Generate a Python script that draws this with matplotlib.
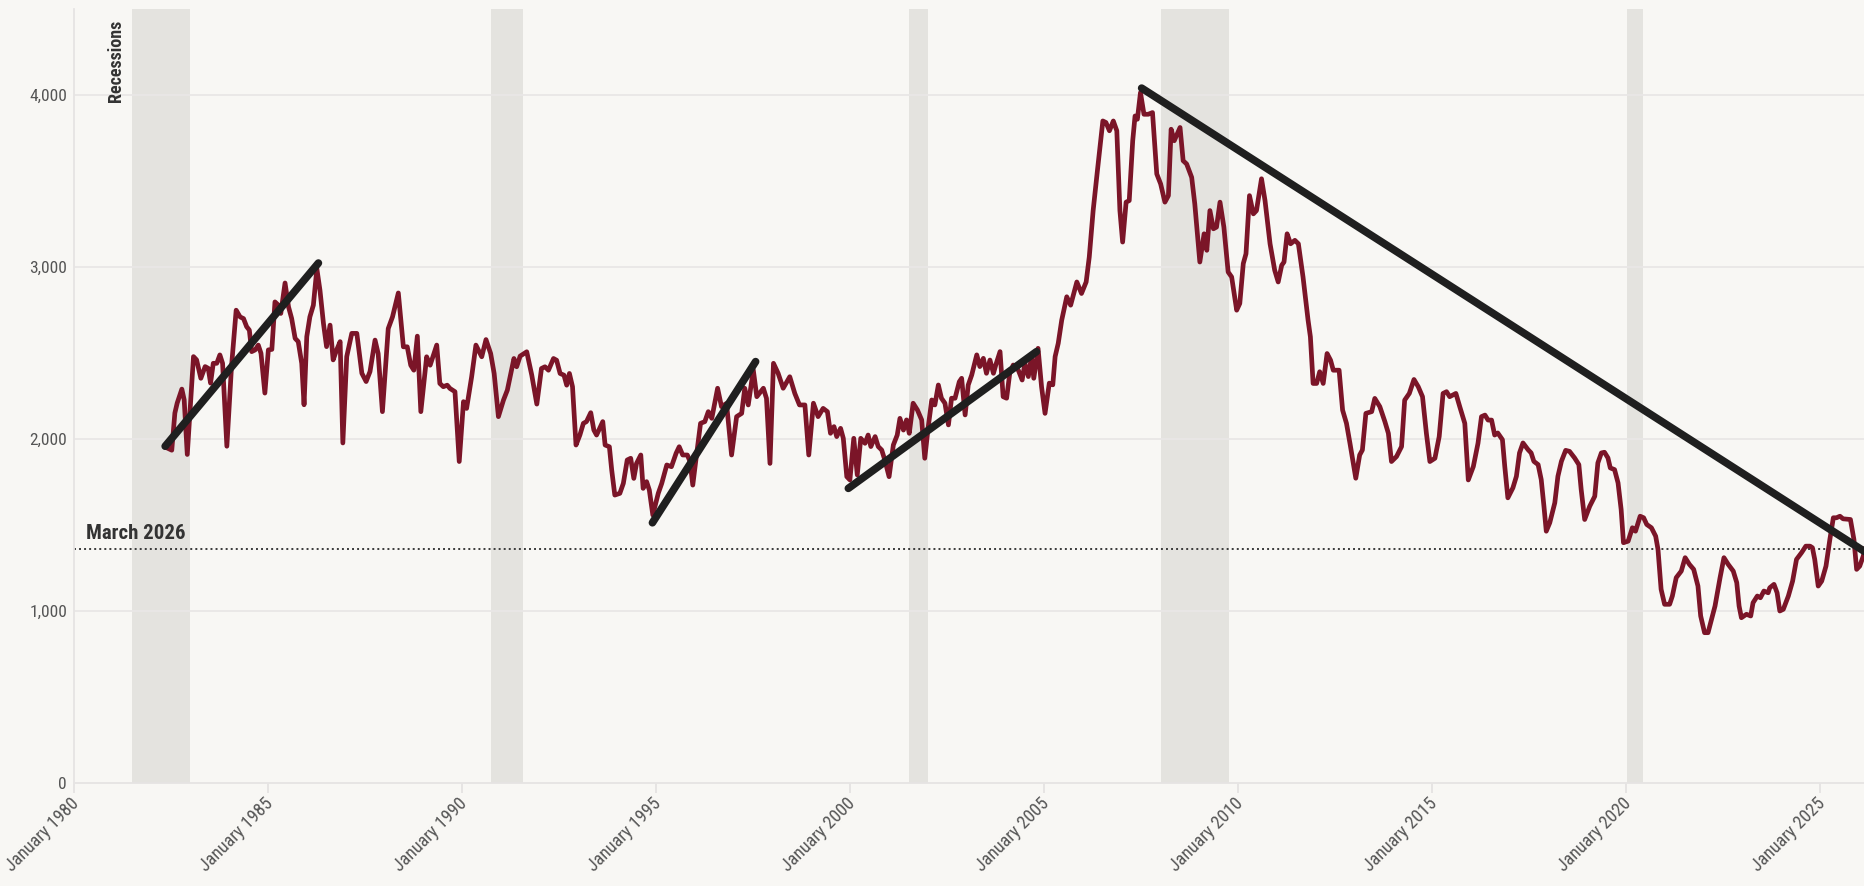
import matplotlib
matplotlib.use('Agg')
import matplotlib.pyplot as plt
from matplotlib.transforms import ScaledTranslation

plt.rcParams['font.family'] = ['Roboto Condensed', 'Roboto', 'DejaVu Sans']

# readings, x in decimal years
years_a = [1982.38, 1982.52, 1982.60, 1982.66, 1982.78, 1982.84, 1982.92,
           1983.08, 1983.16, 1983.27, 1983.38, 1983.46, 1983.52, 1983.59, 1983.68, 1983.76, 1983.83, 1983.94,
           1984.06, 1984.18, 1984.28, 1984.37, 1984.45, 1984.52, 1984.58, 1984.67, 1984.75, 1984.82, 1984.92,
           1985.01, 1985.10, 1985.18, 1985.27, 1985.33, 1985.44, 1985.53, 1985.61, 1985.70, 1985.78, 1985.87, 1985.93,
           1986.00, 1986.08, 1986.17, 1986.26, 1986.34, 1986.43, 1986.51, 1986.60, 1986.68, 1986.77, 1986.86, 1986.93,
           1987.03, 1987.16, 1987.29, 1987.42, 1987.53, 1987.63]
values_a = [1950, 1935, 2151, 2209, 2290, 2228, 1910,
            2479, 2460, 2353, 2421, 2411, 2325, 2440, 2440, 2489, 2440, 1958,
            2421, 2749, 2710, 2700, 2653, 2633, 2508, 2518, 2546, 2498, 2267,
            2518, 2521, 2797, 2778, 2730, 2907, 2768, 2701, 2585, 2566, 2440, 2199,
            2595, 2710, 2778, 2990, 2865, 2672, 2537, 2662, 2460, 2518, 2566, 1977,
            2479, 2614, 2614, 2382, 2334, 2392]

years_b = [1987.76, 1987.84, 1987.95,
           1988.10, 1988.21, 1988.36, 1988.49, 1988.59, 1988.68, 1988.76, 1988.85, 1988.94,
           1989.09, 1989.18, 1989.35, 1989.43, 1989.52, 1989.62, 1989.69, 1989.82, 1989.93,
           1990.04, 1990.12, 1990.25, 1990.36, 1990.51, 1990.62, 1990.74, 1990.83, 1990.94,
           1991.07, 1991.17, 1991.26, 1991.34, 1991.41, 1991.50, 1991.67, 1991.80, 1991.93,
           1992.05, 1992.14, 1992.23, 1992.36, 1992.44, 1992.53, 1992.63, 1992.70, 1992.77, 1992.85, 1992.94,
           1993.04, 1993.13, 1993.21, 1993.32]
values_b = [2575, 2497, 2159,
            2642, 2710, 2849, 2536, 2536, 2429, 2400, 2598, 2159,
            2478, 2429, 2546, 2323, 2304, 2313, 2294, 2275, 1869,
            2217, 2178, 2362, 2546, 2478, 2578, 2497, 2381, 2130,
            2226, 2284, 2381, 2468, 2420, 2482, 2507, 2371, 2203,
            2410, 2420, 2400, 2468, 2458, 2381, 2371, 2313, 2381, 2304, 1965,
            2023, 2091, 2101, 2153]

years_c = [1993.40, 1993.47, 1993.63, 1993.69, 1993.80, 1993.86, 1993.94,
           1994.07, 1994.16, 1994.26, 1994.35, 1994.43, 1994.50, 1994.61, 1994.67, 1994.76, 1994.83, 1994.92,
           1995.06, 1995.15, 1995.28, 1995.40, 1995.52, 1995.60, 1995.69, 1995.81, 1995.88, 1995.95,
           1996.03, 1996.15, 1996.26, 1996.35, 1996.44, 1996.59, 1996.69, 1996.82, 1996.95,
           1997.08, 1997.21, 1997.29, 1997.38, 1997.51, 1997.60, 1997.77, 1997.85, 1997.94,
           1998.03, 1998.15, 1998.28, 1998.45, 1998.58, 1998.70, 1998.84, 1998.94]
values_c = [2052, 2023, 2101, 1965, 1955, 1820, 1674,
            1684, 1742, 1878, 1888, 1771, 1858, 1907, 1713, 1752, 1703, 1558,
            1684, 1742, 1849, 1839, 1917, 1955, 1907, 1907, 1868, 1732,
            1878, 2091, 2101, 2159, 2120, 2295, 2188, 2207, 1907,
            2130, 2149, 2295, 2198, 2401, 2246, 2295, 2236, 1858,
            2440, 2382, 2295, 2362, 2265, 2198, 2198, 1907]

years_d = [1999.06, 1999.18, 1999.31, 1999.42, 1999.50, 1999.59, 1999.66, 1999.76, 1999.83, 1999.92,
           2000.00, 2000.10, 2000.19, 2000.28, 2000.39, 2000.47, 2000.54, 2000.65, 2000.73, 2000.82, 2000.90,
           2001.01, 2001.12, 2001.22, 2001.29, 2001.38, 2001.46, 2001.53, 2001.63, 2001.74, 2001.85, 2001.93,
           2002.02, 2002.11, 2002.19, 2002.28, 2002.36, 2002.45, 2002.54, 2002.62, 2002.71, 2002.82, 2002.88, 2002.97,
           2003.05, 2003.14, 2003.27, 2003.35, 2003.44, 2003.52, 2003.61, 2003.70, 2003.76, 2003.87, 2003.95,
           2004.04, 2004.12, 2004.21, 2004.34, 2004.44, 2004.51, 2004.60, 2004.68, 2004.74, 2004.85, 2004.94,
           2005.03]
values_d = [2208, 2130, 2178, 2159, 2033, 2072, 2014, 2062, 2004, 1781,
            1762, 2004, 1791, 2004, 1975, 2023, 1956, 2014, 1956, 1936, 1878,
            1781, 1965, 2023, 2120, 2052, 2111, 2033, 2208, 2169, 2111, 1888,
            2072, 2227, 2198, 2314, 2237, 2208, 2082, 2237, 2237, 2333, 2353, 2140,
            2314, 2372, 2489, 2421, 2469, 2382, 2459, 2382, 2430, 2508, 2246,
            2237, 2382, 2430, 2401, 2343, 2440, 2363, 2479, 2353, 2527, 2304,
            2149]

years_e = [2005.14, 2005.23, 2005.29, 2005.37, 2005.46, 2005.59, 2005.69, 2005.85, 2005.97,
           2006.09, 2006.17, 2006.27, 2006.38, 2006.52, 2006.60, 2006.69, 2006.79, 2006.88, 2006.96,
           2007.03, 2007.12, 2007.20, 2007.29, 2007.35, 2007.41, 2007.49, 2007.58, 2007.69, 2007.80, 2007.91,
           2008.01, 2008.12, 2008.21, 2008.28, 2008.36, 2008.51, 2008.59, 2008.68, 2008.81, 2008.89,
           2009.02, 2009.13, 2009.20, 2009.28, 2009.37, 2009.45, 2009.54, 2009.64, 2009.75, 2009.84, 2009.97,
           2010.05, 2010.14, 2010.21, 2010.30, 2010.40, 2010.48]
values_e = [2325, 2315, 2479, 2556, 2691, 2827, 2778, 2913, 2846,
            2913, 3058, 3328, 3560, 3849, 3840, 3792, 3849, 3792, 3328,
            3145, 3377, 3386, 3734, 3878, 3859, 4014, 3888, 3888, 3898, 3541,
            3483, 3377, 3415, 3801, 3734, 3811, 3618, 3599, 3521, 3367,
            3029, 3193, 3097, 3328, 3222, 3232, 3377, 3232, 2971, 2942, 2749,
            2788, 3020, 3077, 3415, 3309, 3328]

years_f = [2010.61, 2010.70, 2010.83, 2010.95,
           2011.04, 2011.13, 2011.19, 2011.27, 2011.36, 2011.47, 2011.56, 2011.68, 2011.81, 2011.87, 2011.94,
           2012.03, 2012.11, 2012.20, 2012.30, 2012.39, 2012.46, 2012.61, 2012.70, 2012.80, 2012.89,
           2013.04, 2013.14, 2013.21, 2013.30, 2013.45, 2013.53, 2013.66, 2013.79, 2013.88, 2013.96,
           2014.09, 2014.22, 2014.30, 2014.42, 2014.54, 2014.65, 2014.76, 2014.86, 2014.95,
           2015.08, 2015.19, 2015.29, 2015.38, 2015.46, 2015.62, 2015.72, 2015.85, 2015.94,
           2016.07, 2016.19, 2016.28, 2016.37, 2016.45, 2016.54, 2016.62]
values_f = [3513, 3387, 3135, 2981,
            2913, 3010, 3029, 3193, 3135, 3155, 3135, 2942, 2691, 2594, 2323,
            2323, 2391, 2323, 2497, 2458, 2400, 2400, 2168, 2091, 1975,
            1772, 1907, 1936, 2149, 2159, 2236, 2188, 2101, 2033, 1869,
            1898, 1956, 2226, 2265, 2346, 2304, 2246, 2033, 1869,
            1888, 2014, 2265, 2275, 2246, 2265, 2188, 2091, 1762,
            1840, 1975, 2130, 2139, 2110, 2110, 2023]

years_g = [2016.70, 2016.82, 2016.88, 2016.96,
           2017.09, 2017.18, 2017.26, 2017.35, 2017.48, 2017.56, 2017.63, 2017.74, 2017.82, 2017.89, 2017.95,
           2018.04, 2018.17, 2018.25, 2018.34, 2018.45, 2018.55, 2018.68, 2018.79, 2018.85, 2018.94,
           2019.07, 2019.20, 2019.28, 2019.37, 2019.45, 2019.54, 2019.60, 2019.71, 2019.80, 2019.88, 2019.94,
           2020.06, 2020.17, 2020.25, 2020.37, 2020.46, 2020.54, 2020.66, 2020.77, 2020.83, 2020.91,
           2021.00, 2021.13, 2021.20, 2021.30, 2021.43, 2021.53, 2021.64, 2021.75, 2021.86, 2021.93]
values_g = [2035, 1996, 1841, 1658,
            1716, 1783, 1919, 1977, 1938, 1919, 1870, 1851, 1764, 1609, 1464,
            1513, 1629, 1783, 1870, 1934, 1928, 1890, 1851, 1706, 1532,
            1609, 1667, 1861, 1919, 1923, 1890, 1832, 1822, 1745, 1590, 1397,
            1406, 1484, 1464, 1551, 1542, 1503, 1484, 1435, 1358, 1126,
            1039, 1039, 1087, 1194, 1232, 1310, 1271, 1242, 1145, 971]

years_h = [2022.03, 2022.12, 2022.21, 2022.30, 2022.43, 2022.53, 2022.64, 2022.77, 2022.86, 2022.92, 2022.98,
           2023.11, 2023.22, 2023.28, 2023.39, 2023.47, 2023.56, 2023.67, 2023.71, 2023.82, 2023.90, 2023.97,
           2024.06, 2024.19, 2024.30, 2024.40, 2024.53, 2024.64, 2024.75, 2024.81, 2024.87, 2024.96,
           2025.05, 2025.16, 2025.26, 2025.35, 2025.43, 2025.52, 2025.60, 2025.79, 2025.88, 2025.95,
           2026.03, 2026.12, 2026.16]
values_h = [874, 874, 952, 1029, 1194, 1310, 1271, 1232, 1165, 1029, 961,
            981, 971, 1048, 1087, 1077, 1116, 1106, 1135, 1155, 1106, 1000,
            1010, 1087, 1174, 1300, 1339, 1377, 1377, 1368, 1300, 1145,
            1174, 1261, 1416, 1542, 1542, 1551, 1536, 1532, 1416, 1242,
            1261, 1319, 1360]

# hand drawn trend segments
trend_x = [[1982.35, 1986.30], [1994.91, 1997.57], [1999.96, 2004.81], [2007.52, 2026.16]]
trend_y = [[1958, 3023], [1513, 2450], [1713, 2508], [4040, 1345]]

# recession shading
rec_start = [1981.50, 1990.75, 2001.52, 2008.02, 2020.02]
rec_end = [1983.00, 1991.57, 2002.02, 2009.77, 2020.45]

latest_label = 'March 2026'
latest_value = 1360

tick_years = [1980, 1985, 1990, 1995, 2000, 2005, 2010, 2015, 2020, 2025]
y_ticks = [0, 1000, 2000, 3000, 4000]

years = years_a + years_b + years_c + years_d + years_e + years_f + years_g + years_h
values = values_a + values_b + values_c + values_d + values_e + values_f + values_g + values_h

bg = '#f8f7f4'
fig = plt.figure(figsize=(18.64, 8.86), dpi=100, facecolor=bg)
ax = fig.add_axes([74/1864, 103/886, 1790/1864, 774/886], facecolor=bg)

for s, e in zip(rec_start, rec_end):
    ax.axvspan(s, e, color='#e4e3df', lw=0, zorder=0)

for y in y_ticks[1:]:
    ax.axhline(y, color='#e9e7e6', lw=1.3, zorder=0.5)

ax.axhline(latest_value, color='#3a3a3a', lw=1.4, ls=(0, (1, 1.6)), zorder=2)
ax.text(1980.31, latest_value + 60, latest_label, fontsize=15, fontweight='bold',
        color='#333333', ha='left', va='baseline')

ax.plot(years, values, color='#7b1528', lw=3.4, solid_joinstyle='round', zorder=3)

for tx, ty in zip(trend_x, trend_y):
    ax.plot(tx, ty, color='#1f1f1f', lw=5.5, solid_capstyle='round', zorder=4)

ax.text(1981.07, 4440, 'Recessions', rotation=90, fontsize=13, fontweight='bold',
        color='#333333', ha='center', va='top')

ax.set_xlim(1980, 2026.14)
ax.set_ylim(0, 4500)

ax.set_xticks(tick_years)
ax.set_xticklabels(['January %d' % y for y in tick_years], rotation=45, ha='right',
                   fontsize=13, color='#555555')
ax.set_yticks(y_ticks)
ax.set_yticklabels(['{:,}'.format(y) for y in y_ticks], fontsize=12.5, color='#555555')
ax.tick_params(axis='x', length=7, width=1.2, color='#e3e1e0', pad=1)
ax.tick_params(axis='y', length=0, pad=5)

# nudge the slanted labels so they end at the tick
shift = ScaledTranslation(9/100, 0, fig.dpi_scale_trans)
for lab in ax.xaxis.get_majorticklabels():
    lab.set_transform(lab.get_transform() + shift)

for side in ['top', 'right']:
    ax.spines[side].set_visible(False)
for side in ['left', 'bottom']:
    ax.spines[side].set_color('#e6e4e3')
    ax.spines[side].set_linewidth(1.3)

plt.savefig('out.png', dpi=100, facecolor=bg)
